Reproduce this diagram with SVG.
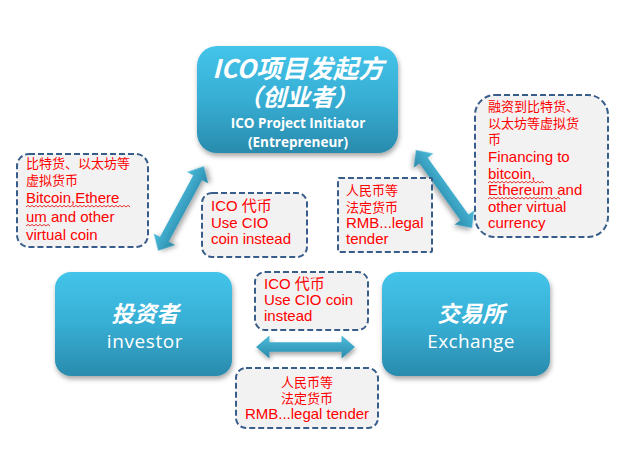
<svg xmlns="http://www.w3.org/2000/svg" width="620" height="464" viewBox="0 0 620 464">
<defs>
<linearGradient id="ng" x1="0" y1="0" x2="0" y2="1">
<stop offset="0" stop-color="#44c4ea"/>
<stop offset="0.5" stop-color="#37aed4"/>
<stop offset="1" stop-color="#2a8bad"/>
</linearGradient>
<linearGradient id="ag" x1="0" y1="0" x2="0" y2="1">
<stop offset="0" stop-color="#4cbcdc"/>
<stop offset="1" stop-color="#2a8aab"/>
</linearGradient>
<filter id="sh" x="-10%" y="-10%" width="125%" height="130%">
<feDropShadow dx="1" dy="3" stdDeviation="2.5" flood-color="#000" flood-opacity="0.35"/>
</filter>
<path id="arr" d="M-48,0 L-35,-12 L-35,-5 L35,-5 L35,-12 L48,0 L35,12 L35,5 L-35,5 L-35,12 Z"/>
</defs>
<style>
.node{fill:url(#ng);filter:url(#sh);}
.cn{font-family:"Noto Sans CJK SC","Noto Sans",sans-serif;font-weight:bold;font-style:italic;fill:#fff;text-anchor:middle;}
.en{font-family:"Open Sans","Liberation Sans",sans-serif;fill:#fff;text-anchor:middle;}
.call{fill:#f2f2f2;stroke:#385d8a;stroke-width:2;stroke-dasharray:6,3;}
.rc{font-family:"Noto Sans CJK SC",sans-serif;font-size:13px;fill:#ff0000;}
.re{font-family:"Liberation Sans","Noto Sans CJK SC",sans-serif;font-size:15px;fill:#ff0000;}
.arrow{fill:url(#ag);filter:url(#sh);}
.wave{fill:none;stroke:#e00000;stroke-width:0.8;}
</style>
<rect width="620" height="464" fill="#ffffff"/>
<g id="connectors">
<use href="#arr" class="arrow" transform="translate(181,208.5) rotate(-61.6)"/>
<use href="#arr" class="arrow" transform="translate(444,189) rotate(54.3)"/>
<use href="#arr" class="arrow" transform="translate(305.5,347) scale(1.03,0.95)"/>
</g>
<g id="initiator">
<rect class="node" x="197" y="46" width="201" height="107" rx="20"/>
<text class="cn" x="298" y="78" font-size="25.5">ICO项目发起方</text>
<text class="cn" x="298" y="106" font-size="24">（创业者）</text>
<text class="en" x="298" y="128" font-size="13.5" font-weight="bold">ICO Project Initiator</text>
<text class="en" x="298" y="147" font-size="13.5" font-weight="bold">(Entrepreneur)</text>
</g>
<g id="investor">
<rect class="node" x="55" y="272" width="177" height="104" rx="16"/>
<text class="cn" x="145" y="322" font-size="22.5">投资者</text>
<text class="en" x="145" y="348" font-size="19" letter-spacing="0.6">investor</text>
</g>
<g id="exchange">
<rect class="node" x="382" y="272" width="168" height="104" rx="16"/>
<text class="cn" x="471" y="322" font-size="22.5">交易所</text>
<text class="en" x="471" y="348" font-size="19" letter-spacing="0.4">Exchange</text>
</g>
<g id="note-left">
<rect class="call" x="17" y="154" width="131" height="93" rx="12"/>
<text class="rc" x="26" y="168">比特货、以太坊等</text>
<text class="rc" x="26" y="185">虚拟货币</text>
<text class="re" x="26" y="203" font-size="15.5">Bitcoin,Ethere</text>
<text class="re" x="26" y="222" font-size="15.5">um and other</text>
<text class="re" x="26" y="240" font-size="15.5">virtual coin</text>
<path class="wave" d="M26,207 l2,-1.6 l2,1.6 l2,-1.6 l2,1.6 l2,-1.6 l2,1.6 l2,-1.6 l2,1.6 l2,-1.6 l2,1.6 l2,-1.6 l2,1.6 l2,-1.6 l2,1.6 l2,-1.6 l2,1.6 l2,-1.6 l2,1.6 l2,-1.6 l2,1.6 l2,-1.6 l2,1.6 l2,-1.6 l2,1.6 l2,-1.6 l2,1.6 l2,-1.6 l2,1.6 l2,-1.6 l2,1.6 l2,-1.6 l2,1.6 l2,-1.6 l2,1.6 l2,-1.6 l2,1.6 l2,-1.6 l2,1.6 l2,-1.6 l2,1.6 l2,-1.6 l2,1.6 l2,-1.6 l2,1.6 l2,-1.6 l2,1.6 l2,-1.6 l2,1.6 l2,-1.6 l2,1.6 l2,-1.6 l2,1.6"/>
<path class="wave" d="M26,226 l2,-1.6 l2,1.6 l2,-1.6 l2,1.6 l2,-1.6 l2,1.6 l2,-1.6 l2,1.6 l2,-1.6 l2,1.6 l2,-1.6 l2,1.6"/>
</g>
<g id="note-cio-1">
<rect class="call" x="202" y="193" width="105" height="64" rx="10"/>
<text class="re" x="211" y="211">ICO 代币</text>
<text class="re" x="211" y="228">Use CIO</text>
<text class="re" x="211" y="244">coin instead</text>
</g>
<g id="note-rmb-1">
<rect class="call" x="338" y="178" width="94" height="74" rx="1"/>
<text class="rc" x="346" y="195">人民币等</text>
<text class="rc" x="346" y="212">法定货币</text>
<text class="re" x="346" y="228" font-size="14.5">RMB...legal</text>
<text class="re" x="346" y="244" font-size="14.5">tender</text>
</g>
<g id="note-right">
<rect class="call" x="475" y="95" width="133" height="142" rx="20"/>
<text class="rc" x="488" y="111">融资到比特货、</text>
<text class="rc" x="488" y="128">以太坊等虚拟货</text>
<text class="rc" x="488" y="144">币</text>
<text class="re" x="488" y="162" font-size="15.5">Financing to</text>
<text class="re" x="488" y="179" font-size="15.5">bitcoin,</text>
<text class="re" x="488" y="195" font-size="15.5">Ethereum and</text>
<text class="re" x="488" y="212" font-size="15.5">other virtual</text>
<text class="re" x="488" y="228" font-size="15.5">currency</text>
<path class="wave" d="M488,183 l2,-1.6 l2,1.6 l2,-1.6 l2,1.6 l2,-1.6 l2,1.6 l2,-1.6 l2,1.6 l2,-1.6 l2,1.6 l2,-1.6 l2,1.6 l2,-1.6 l2,1.6 l2,-1.6 l2,1.6 l2,-1.6 l2,1.6 l2,-1.6 l2,1.6 l2,-1.6 l2,1.6 l2,-1.6 l2,1.6 l2,-1.6 l2,1.6 l2,-1.6 l2,1.6"/>
<path class="wave" d="M488,199 l2,-1.6 l2,1.6 l2,-1.6 l2,1.6 l2,-1.6 l2,1.6 l2,-1.6 l2,1.6 l2,-1.6 l2,1.6 l2,-1.6 l2,1.6 l2,-1.6 l2,1.6 l2,-1.6 l2,1.6 l2,-1.6 l2,1.6 l2,-1.6 l2,1.6 l2,-1.6 l2,1.6 l2,-1.6 l2,1.6 l2,-1.6 l2,1.6 l2,-1.6 l2,1.6 l2,-1.6 l2,1.6 l2,-1.6 l2,1.6 l2,-1.6 l2,1.6 l2,-1.6 l2,1.6"/>
</g>
<g id="note-cio-2">
<rect class="call" x="255" y="272" width="113" height="58" rx="10"/>
<text class="re" x="264" y="289">ICO 代币</text>
<text class="re" x="264" y="305" font-size="16">Use CIO coin</text>
<text class="re" x="264" y="321" font-size="16">instead</text>
</g>
<g id="note-rmb-2">
<rect class="call" x="236" y="368" width="142" height="60" rx="10"/>
<text class="rc" x="307" y="387" text-anchor="middle">人民币等</text>
<text class="rc" x="307" y="403" text-anchor="middle">法定货币</text>
<text class="re" x="307" y="419" text-anchor="middle" font-size="15">RMB...legal tender</text>
</g>
</svg>
